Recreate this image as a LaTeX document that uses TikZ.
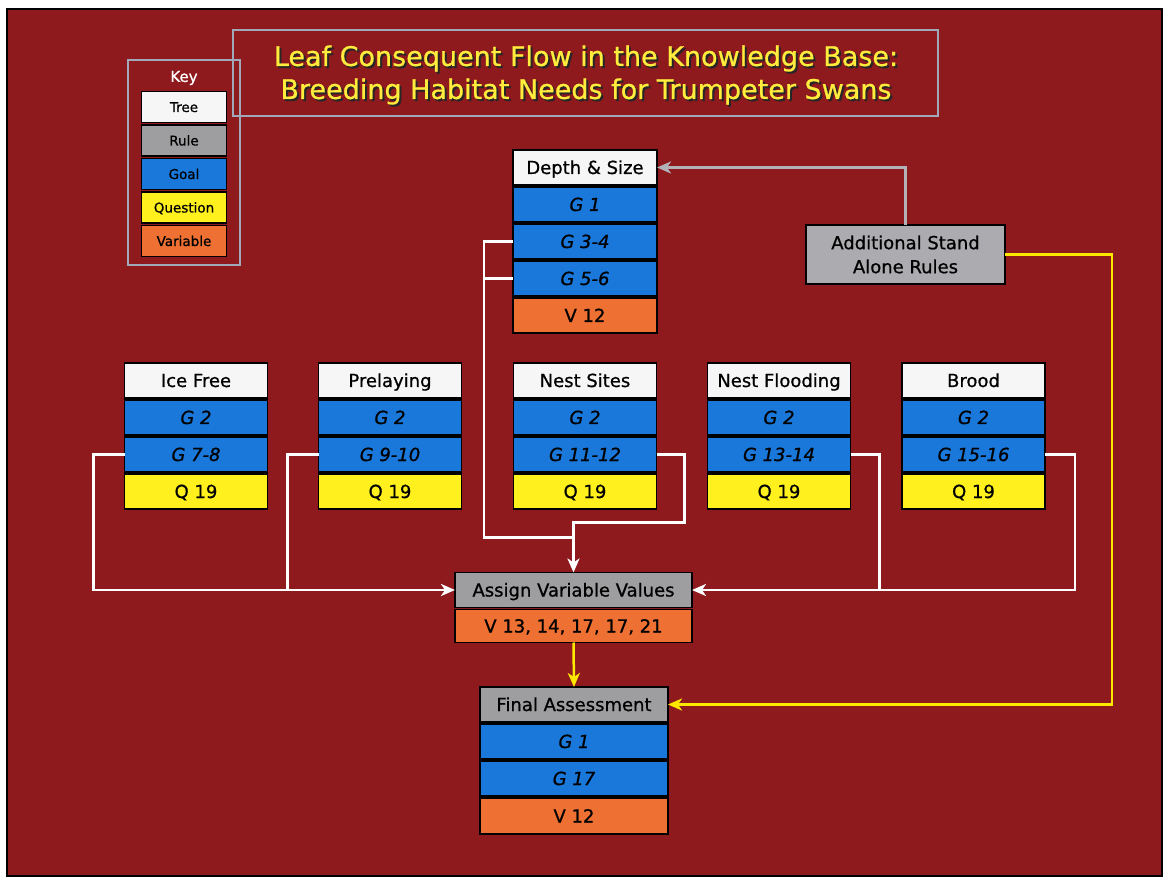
\documentclass[tikz,border=0pt]{standalone}
\usepackage{fontspec}
\setmainfont{DejaVu Sans}[FakeBold=0.8]
\usetikzlibrary{positioning,arrows.meta,calc}

\definecolor{bgred}{RGB}{142,26,30}
\definecolor{treewhite}{RGB}{246,246,246}
\definecolor{rulegray}{RGB}{158,158,160}
\definecolor{rulelight}{RGB}{172,172,176}
\definecolor{goalblue}{RGB}{25,120,218}
\definecolor{quesyellow}{RGB}{255,240,30}
\definecolor{varorange}{RGB}{238,112,50}
\definecolor{framegray}{RGB}{160,168,186}
\definecolor{titleyellow}{RGB}{255,236,60}
\definecolor{arrowgray}{RGB}{178,178,184}
\definecolor{lineyellow}{RGB}{255,232,0}

\tikzset{
  cell/.style={draw=black, line width=1.6pt, minimum height=35pt, inner sep=0pt,
    outer sep=0pt, text height=17pt, text depth=4pt, font=\fontsize{18}{20}\selectfont},
  treecell/.style={cell, fill=treewhite, minimum width=143pt},
  rulecell/.style={cell, fill=rulegray},
  goalcell/.style={cell, fill=goalblue, minimum width=143pt, font=\fontsize{18}{20}\selectfont\itshape},
  quescell/.style={cell, fill=quesyellow, minimum width=143pt},
  varcell/.style={cell, fill=varorange, minimum width=143pt},
  keycell/.style={cell, minimum width=85pt, minimum height=31pt, text height=13.5pt,
    text depth=3.5pt, font=\fontsize{13.5}{15}\selectfont},
  frame/.style={draw=framegray, line width=1.8pt},
  titletext/.style={align=center, font=\fontsize{27}{33}\selectfont},
  whiteflow/.style={draw=white, line width=2.5pt},
  tip/.style={-{Stealth[length=14pt,width=12pt,inset=4pt]}}
}

\begin{document}
\begin{tikzpicture}[x=1pt, y=-1pt, node distance=2pt]
  \useasboundingbox (0,0) rectangle (1163,877);
  \fill[white] (0,0) rectangle (1163,877);
  \filldraw[fill=bgred, draw=black, line width=1.5pt] (7,9) rectangle (1162,876);

  % title
  \draw[frame] (233,30) rectangle (938,116);
  \node[titletext, text=black!85] at (588,77) {Leaf Consequent Flow in the Knowledge Base:\\Breeding Habitat Needs for Trumpeter Swans};
  \node[titletext, text=titleyellow] (title) at (586,75) {Leaf Consequent Flow in the Knowledge Base:\\Breeding Habitat Needs for Trumpeter Swans};

  % key
  \draw[frame] (128,60) rectangle (240,265);
  \node[text=white, font=\fontsize{15}{17}\selectfont] (key) at (184,78) {Key};
  \node[keycell, fill=treewhite] (k-tree) at (184,107) {Tree};
  \node[keycell, fill=rulegray, below=2.5pt of k-tree] (k-rule) {Rule};
  \node[keycell, fill=goalblue, below=2.5pt of k-rule] (k-goal) {Goal};
  \node[keycell, fill=quesyellow, below=2.5pt of k-goal] (k-ques) {Question};
  \node[keycell, fill=varorange, below=2.5pt of k-ques] (k-var) {Variable};

  % depth & size tree
  \node[treecell, minimum width=144pt] (depth) at (585,167.5) {Depth \& Size};
  \node[goalcell, minimum width=144pt, below=of depth] (depth-g1) {G 1};
  \node[goalcell, minimum width=144pt, below=of depth-g1] (depth-g34) {G 3-4};
  \node[goalcell, minimum width=144pt, below=of depth-g34] (depth-g56) {G 5-6};
  \node[varcell, minimum width=144pt, below=of depth-g56] (depth-v) {V 12};

  % stand alone rules
  \node[rulecell, fill=rulelight, minimum width=199pt, minimum height=59pt, align=center,
    text height=, text depth=, font=\fontsize{18}{24}\selectfont]
    (rules) at (905.5,254.5) {Additional Stand\\Alone Rules};

  % row of trees
  \node[treecell] (ice) at (196,380.5) {Ice Free};
  \node[goalcell, below=of ice] (ice-g2) {G 2};
  \node[goalcell, below=of ice-g2] (ice-g) {G 7-8};
  \node[quescell, below=of ice-g] (ice-q) {Q 19};

  \node[treecell] (pre) at (390,380.5) {Prelaying};
  \node[goalcell, below=of pre] (pre-g2) {G 2};
  \node[goalcell, below=of pre-g2] (pre-g) {G 9-10};
  \node[quescell, below=of pre-g] (pre-q) {Q 19};

  \node[treecell] (nest) at (585,380.5) {Nest Sites};
  \node[goalcell, below=of nest] (nest-g2) {G 2};
  \node[goalcell, below=of nest-g2] (nest-g) {G 11-12};
  \node[quescell, below=of nest-g] (nest-q) {Q 19};

  \node[treecell] (flood) at (779,380.5) {Nest Flooding};
  \node[goalcell, below=of flood] (flood-g2) {G 2};
  \node[goalcell, below=of flood-g2] (flood-g) {G 13-14};
  \node[quescell, below=of flood-g] (flood-q) {Q 19};

  \node[treecell] (brood) at (973.5,380.5) {Brood};
  \node[goalcell, below=of brood] (brood-g2) {G 2};
  \node[goalcell, below=of brood-g2] (brood-g) {G 15-16};
  \node[quescell, below=of brood-g] (brood-q) {Q 19};

  % assign and final
  \node[rulecell, minimum width=237pt] (assign) at (573.5,590) {Assign Variable Values};
  \node[varcell, minimum width=237pt, minimum height=33pt, below=of assign] (assign-v) {V 13, 14, 17, 17, 21};

  \node[rulecell, minimum width=188pt] (final) at (574,704.5) {Final Assessment};
  \node[goalcell, minimum width=188pt, below=of final] (final-g1) {G 1};
  \node[goalcell, minimum width=188pt, below=of final-g1] (final-g17) {G 17};
  \node[varcell, minimum width=188pt, minimum height=36pt, below=of final-g17] (final-v) {V 12};

  % flow lines
  \draw[whiteflow, tip] (ice-g.west) -- ++(-31,0) |- (assign.west);
  \draw[whiteflow] (pre-g.west) -- ++(-31,0) |- ($(assign.west)+(-20,0)$);
  \draw[whiteflow] (depth-g34.west) -- ++(-29,0) |- ($(assign.north)+(0,-35)$);
  \draw[whiteflow] (depth-g56.west) -- ++(-29,0);
  \draw[whiteflow, tip] (nest-g.east) -- ++(28,0) |- ($(assign.north)+(0,-50)$) -- (assign.north);
  \draw[whiteflow, tip] (brood-g.east) -- ++(30,0) |- (assign.east);
  \draw[whiteflow] (flood-g.east) -- ++(29,0) |- ($(assign.east)+(20,0)$);

  \draw[draw=arrowgray, line width=2.5pt, tip] (rules.north) |- (depth.east);
  \draw[draw=lineyellow, line width=2.5pt, tip] (rules.east) -- ++(107,0) |- (final.east);
  \draw[draw=lineyellow, line width=2.5pt, tip] (assign-v.south) -- (final.north);
\end{tikzpicture}
\end{document}
